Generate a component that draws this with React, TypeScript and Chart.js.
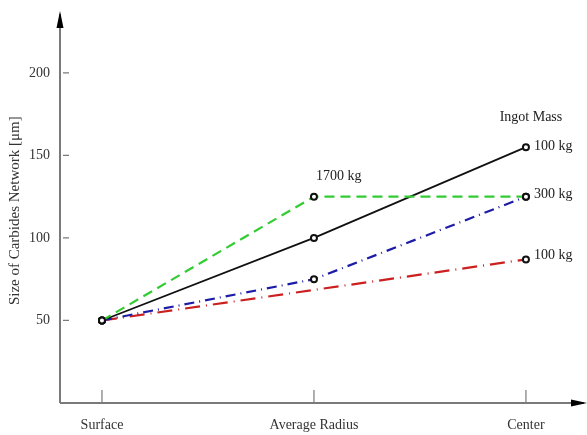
import React, { useEffect, useRef } from "react";
import { Chart, registerables } from "chart.js";
Chart.register(...registerables);

const categories = ["Surface", "Average Radius", "Center"];
const yTickValues = [50, 100, 150, 200];
const mass1700 = [50, 125, 125]; // green
const mass100a = [50, 100, 155]; // black
const mass300 = [50, 75, 125]; // blue
const mass100b = [50, null, 87]; // red
const yTitle = "Size of Carbides Network [\u03bcm]";

const FONT = "'Liberation Serif', 'Times New Roman', serif";
const AXIS = "#7a7a7a";

// annotation texts attached to dataset/point
const annotations = [
  { text: "Ingot Mass", ds: 1, idx: 2, dx: 5, dy: -30, align: "center" },
  { text: "100 kg", ds: 1, idx: 2, dx: 8, dy: -1, align: "left" },
  { text: "1700 kg", ds: 0, idx: 1, dx: 2, dy: -20, align: "left" },
  { text: "300 kg", ds: 2, idx: 2, dx: 8, dy: -2, align: "left" },
  { text: "100 kg", ds: 3, idx: 2, dx: 8, dy: -4, align: "left" },
];

const toPts = (arr: (number | null)[]) => arr.map((v, i) => ({ x: i, y: v }));

const decorPlugin = {
  id: "decor",
  afterDraw(chart: any) {
    const ctx = chart.ctx;
    const xs = chart.scales.x;
    const ys = chart.scales.y;
    const left = chart.chartArea.left;
    const bottom = chart.chartArea.bottom;
    ctx.save();
    // axes
    ctx.strokeStyle = AXIS;
    ctx.lineWidth = 2;
    ctx.beginPath();
    ctx.moveTo(left, bottom);
    ctx.lineTo(left, 14);
    ctx.moveTo(left, bottom);
    ctx.lineTo(584, bottom);
    ctx.stroke();
    // tick marks
    ctx.lineWidth = 1.2;
    ctx.beginPath();
    yTickValues.forEach((v) => {
      const y = ys.getPixelForValue(v);
      ctx.moveTo(left + 3, y);
      ctx.lineTo(left + 9, y);
    });
    categories.forEach((_, i) => {
      const x = xs.getPixelForValue(i);
      ctx.moveTo(x, bottom - 1);
      ctx.lineTo(x, bottom - 13);
    });
    ctx.stroke();
    // arrows
    ctx.fillStyle = "#000";
    ctx.beginPath();
    ctx.moveTo(left, 11);
    ctx.lineTo(left - 3.5, 28);
    ctx.lineTo(left + 3.5, 28);
    ctx.closePath();
    ctx.fill();
    ctx.beginPath();
    ctx.moveTo(587, bottom);
    ctx.lineTo(571, bottom - 3.5);
    ctx.lineTo(571, bottom + 3.5);
    ctx.closePath();
    ctx.fill();
    // annotations
    ctx.fillStyle = "#222";
    ctx.font = `14px ${FONT}`;
    ctx.textBaseline = "middle";
    annotations.forEach((a) => {
      const meta = chart.getDatasetMeta(a.ds);
      const el = meta.data[a.idx];
      if (!el) return;
      ctx.textAlign = a.align as CanvasTextAlign;
      ctx.fillText(a.text, el.x + a.dx, el.y + a.dy);
    });
    ctx.restore();
  },
};

export default function App() {
  const ref = useRef<HTMLCanvasElement>(null);
  useEffect(() => {
    if (!ref.current) return;
    const marker = {
      pointStyle: "circle",
      pointBorderColor: "#111",
      pointBackgroundColor: "#fff",
      pointBorderWidth: 2,
    };
    const chart = new Chart(ref.current, {
      type: "line",
      data: {
        datasets: [
          {
            label: "1700 kg",
            data: toPts(mass1700),
            borderColor: "#33cc33",
            borderWidth: 2.2,
            borderDash: [10, 6],
            pointRadius: 3,
            ...marker,
          },
          {
            label: "100 kg",
            data: toPts(mass100a),
            borderColor: "#111",
            borderWidth: 1.8,
            pointRadius: 3,
            ...marker,
          },
          {
            label: "300 kg",
            data: toPts(mass300),
            borderColor: "#1c1ca8",
            borderWidth: 2.2,
            borderDash: [10, 5, 1, 5],
            pointRadius: 3,
            ...marker,
          },
          {
            label: "100 kg ",
            data: toPts(mass100b),
            borderColor: "#cc2020",
            borderWidth: 2.2,
            borderDash: [15, 6, 1, 6],
            pointRadius: 3,
            spanGaps: true,
            ...marker,
          },
        ] as any,
      },
      options: {
        responsive: false,
        animation: false,
        layout: { padding: { top: 12, right: 7, left: 0, bottom: 0 } },
        plugins: { legend: { display: false }, tooltip: { enabled: false } },
        scales: {
          x: {
            type: "linear",
            min: -0.198,
            max: 2.255,
            grid: { display: false, drawTicks: false },
            border: { display: false },
            afterBuildTicks: (s: any) => {
              s.ticks = categories.map((_, i) => ({ value: i }));
            },
            afterFit: (s: any) => {
              s.height = 32;
            },
            ticks: {
              padding: 14,
              color: "#333",
              font: { family: FONT, size: 14 },
              callback: (v: any) => categories[v as number] ?? "",
              maxRotation: 0,
              autoSkip: false,
            },
          },
          y: {
            type: "linear",
            min: 0,
            max: 233,
            grid: { display: false, drawTicks: false },
            border: { display: false },
            afterBuildTicks: (s: any) => {
              s.ticks = yTickValues.map((v) => ({ value: v }));
            },
            afterFit: (s: any) => {
              s.width = 60;
            },
            title: {
              display: true,
              text: yTitle,
              color: "#333",
              font: { family: FONT, size: 15 },
              padding: { top: 6, bottom: 0 },
            },
            ticks: {
              padding: 10,
              color: "#333",
              font: { family: FONT, size: 14 },
            },
          },
        },
      } as any,
      plugins: [decorPlugin],
    });
    return () => chart.destroy();
  }, []);
  return (
    <div style={{ position: "fixed", left: 0, top: 0, width: 587, height: 435, background: "#fff" }}>
      <canvas ref={ref} width={587} height={435} />
    </div>
  );
}
